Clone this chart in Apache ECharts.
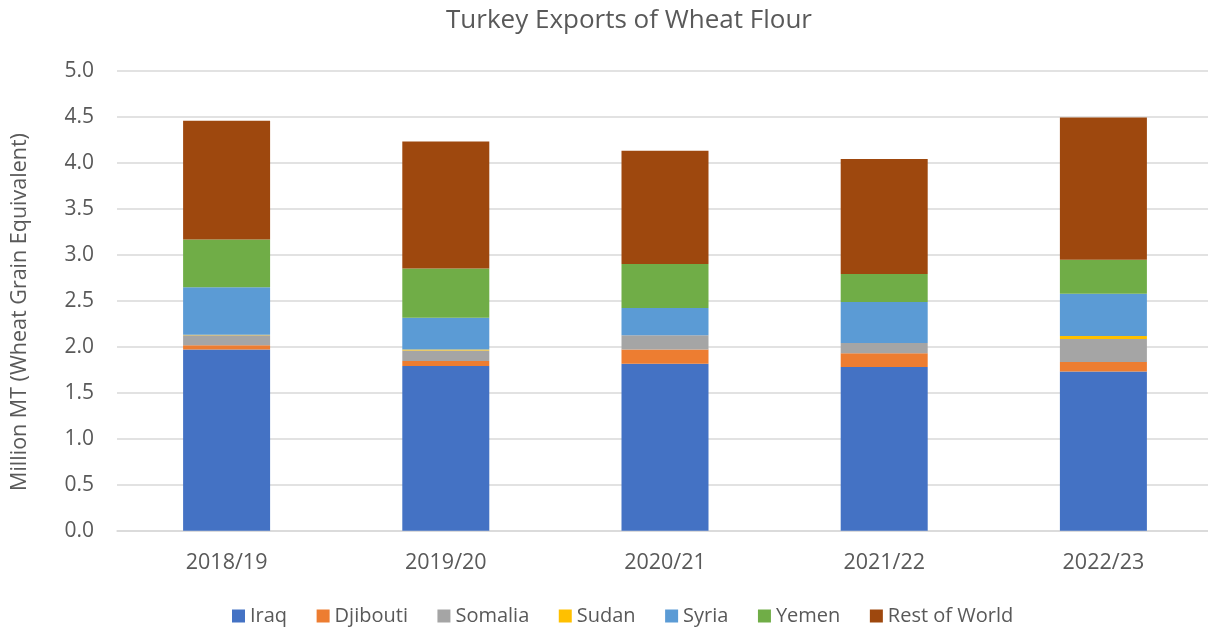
<!DOCTYPE html>
<html>
<head>
<meta charset="utf-8">
<script src="https://cdn.jsdelivr.net/npm/echarts@6/dist/echarts.min.js"></script>
<style>
html,body{margin:0;padding:0;background:#fff;overflow:hidden;}
#chart{width:1220px;height:628px;}
</style>
</head>
<body>
<div id="chart"></div>
<script>
const categories = ['2018/19', '2019/20', '2020/21', '2021/22', '2022/23'];
const iraq     = [1.97, 1.79, 1.815, 1.78, 1.73];
const djibouti = [0.045, 0.055, 0.155, 0.15, 0.105];
const somalia  = [0.11, 0.115, 0.155, 0.11, 0.25];
const sudan    = [0.005, 0.01, 0.0, 0.0, 0.03];
const syria    = [0.515, 0.345, 0.295, 0.445, 0.46];
const yemen    = [0.52, 0.535, 0.48, 0.305, 0.37];
const restOfWorld = [1.29, 1.38, 1.23, 1.25, 1.545];
const yTicks = ['0.0','0.5','1.0','1.5','2.0','2.5','3.0','3.5','4.0','4.5','5.0'];

const seriesDefs = [
  ['Iraq', iraq, '#4472C4'],
  ['Djibouti', djibouti, '#ED7D31'],
  ['Somalia', somalia, '#A5A5A5'],
  ['Sudan', sudan, '#FFC000'],
  ['Syria', syria, '#5B9BD5'],
  ['Yemen', yemen, '#70AD47'],
  ['Rest of World', restOfWorld, '#9E480E']
];

const chart = echarts.init(document.getElementById('chart'), null, {renderer: 'canvas'});
const FONT = 'Open Sans';
chart.setOption({
  animation: false,
  backgroundColor: '#ffffff',
  title: {
    text: 'Turkey Exports of Wheat Flour',
    left: 624,
    textAlign: 'center',
    top: 3,
    textStyle: {fontFamily: FONT, fontSize: 26, fontWeight: 'normal', color: '#595959'}
  },
  legend: {
    top: 601,
    left: 227,
    itemWidth: 13,
    itemHeight: 13,
    itemGap: 29.5,
    icon: 'rect',
    textStyle: {fontFamily: FONT, fontSize: 20, color: '#595959'},
    data: seriesDefs.map(d => d[0])
  },
  graphic: [{
    type: 'text',
    x: 20, y: 312,
    rotation: Math.PI / 2,
    style: {
      text: 'Million MT (Wheat Grain Equivalent)',
      fontFamily: FONT, fontSize: 21.5, fill: '#595959',
      textAlign: 'center', textVerticalAlign: 'middle'
    }
  }],
  grid: {left: 117, top: 70.7, width: 1096, height: 460, containLabel: false},
  xAxis: {
    type: 'category',
    data: categories,
    axisLine: {show: true, lineStyle: {color: '#d9d9d9', width: 1.5}},
    axisTick: {show: false},
    axisLabel: {fontFamily: FONT, fontSize: 21.5, color: '#595959', margin: 21}
  },
  yAxis: {
    type: 'value',
    min: 0, max: 5, interval: 0.5,
    axisLine: {show: false},
    axisTick: {show: false},
    splitLine: {lineStyle: {color: '#d9d9d9', width: 1.5}},
    axisLabel: {
      fontFamily: FONT, fontSize: 21, color: '#595959', margin: 23,
      formatter: v => yTicks[Math.round(v / 0.5)]
    }
  },
  series: seriesDefs.map(d => ({
    name: d[0],
    type: 'bar',
    stack: 'total',
    barWidth: 87,
    data: d[1],
    itemStyle: {color: d[2]}
  }))
});
</script>
</body>
</html>
